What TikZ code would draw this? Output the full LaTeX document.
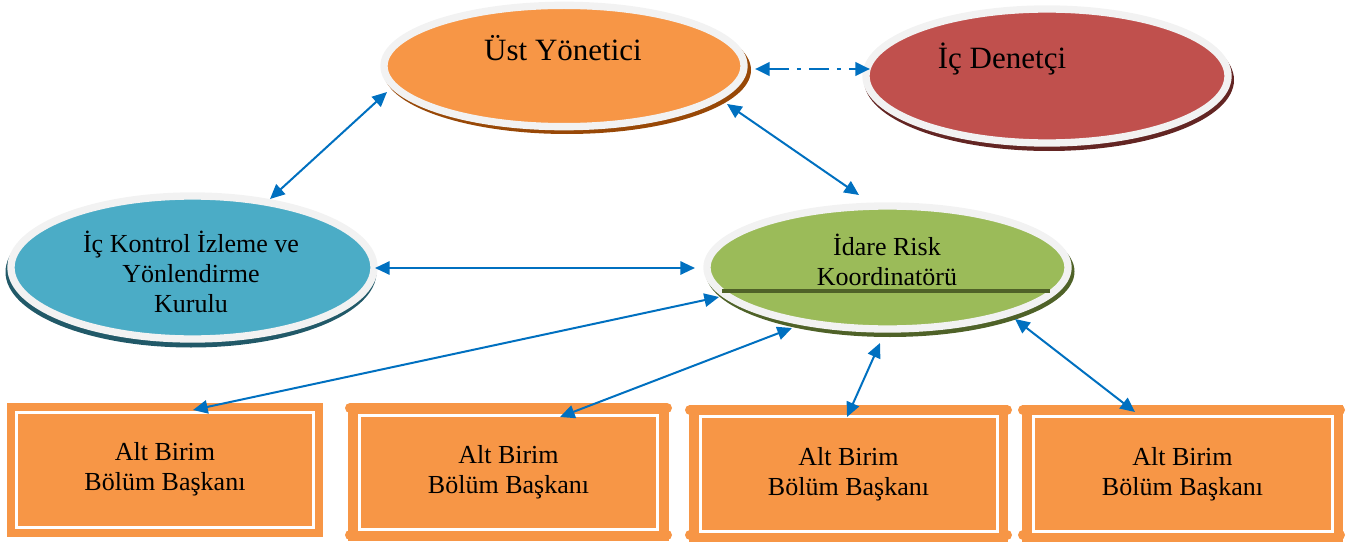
\documentclass[tikz,border=0pt]{standalone}
\usepackage{fontspec}
\setmainfont{Liberation Serif}
\usetikzlibrary{arrows.meta,shapes.geometric}
\definecolor{cOr}{HTML}{F79646}
\definecolor{cOrD}{HTML}{984807}
\definecolor{cRed}{HTML}{C0504D}
\definecolor{cRedD}{HTML}{632523}
\definecolor{cBlu}{HTML}{4BACC6}
\definecolor{cBluD}{HTML}{215968}
\definecolor{cGrn}{HTML}{9BBB59}
\definecolor{cGrnD}{HTML}{4F6228}
\definecolor{cRim}{HTML}{F2F2F2}
\definecolor{cArr}{HTML}{0070C0}
\begin{document}
\begin{tikzpicture}[x=0.75pt,y=-0.75pt,
  ell/.style={ellipse, draw=cRim, line width=5.5pt, inner sep=0pt, outer sep=0pt},
  bigtxt/.style={font=\fontsize{23.25pt}{27pt}\selectfont, inner sep=0pt},
  smalltxt/.style={font=\fontsize{19.5pt}{22.5pt}\selectfont, align=center, inner sep=0pt},
  link/.style={cArr, line width=1.5pt, {Triangle[length=11pt,width=10pt]}-{Triangle[length=11pt,width=10pt]}},
  dlink/.style={link, line width=2.2pt, dash pattern=on 15pt off 6pt on 3pt off 6pt},
  boxA/.style={rectangle, fill=cOr, draw=cOr, double=white, double distance=2.25pt,
    inner sep=0pt, outer sep=0pt, align=center, font=\fontsize{19.5pt}{22.5pt}\selectfont},
  bar/.style={cOr, line width=7.5pt, line cap=round},
]
\useasboundingbox (0,0) rectangle (1349,542);

% shadows
\fill[cOrD]  (567,70)    ellipse [x radius=184, y radius=64];
\fill[cRedD] (1049,80)   ellipse [x radius=185, y radius=71];
\fill[cBluD] (191,272)   ellipse [x radius=185.5, y radius=75.5];
\fill[cGrnD] (890,271.5) ellipse [x radius=184.5, y radius=65.5];

% ellipses
\node[ell, fill=cOr,  minimum width=270pt,    minimum height=91pt]     (ust) at (564,66) {};
\node[ell, fill=cRed, minimum width=271.5pt,  minimum height=100.5pt]  (den) at (1047,76) {};
\node[ell, fill=cBlu, minimum width=272.25pt, minimum height=107.25pt] (ick) at (192.5,267.5) {};
\node[ell, fill=cGrn, minimum width=270.75pt, minimum height=92.25pt]  (ida) at (887.5,267.5) {};
\draw[cGrnD, line width=2.5pt] (722,291) -- (1050,291);

% ellipse texts
\node[bigtxt, anchor=base] (ustT) at (563,61) {Üst Yönetici};
\node[bigtxt, anchor=base] (denT) at (1002,69) {İç Denetçi};
\node[smalltxt] (ickT) at (191,272) {İç Kontrol İzleme ve\\Yönlendirme\\Kurulu};
\node[smalltxt] (idaT) at (887,260) {İdare Risk\\Koordinatörü};

% boxes
\draw[bar] (350,408) -- (667,408);
\draw[bar] (350,535) -- (667,535);
\draw[bar] (690,410) -- (1007,410);
\draw[bar] (690,535) -- (1007,535);
\draw[bar] (1023,410) -- (1340,410);
\draw[bar] (1023,535) -- (1340,535);
\node[boxA, line width=6pt,   minimum width=222.75pt, minimum height=86.25pt]  (b1) at (165,469.5) {Alt Birim\\Bölüm Başkanı};
\node[boxA, line width=7.2pt, minimum width=223.5pt,  minimum height=85.875pt] (b2) at (508.5,472.25) {Alt Birim\\Bölüm Başkanı};
\node[boxA, line width=7.2pt, minimum width=222.75pt, minimum height=86.625pt] (b3) at (848.5,473.75) {Alt Birim\\Bölüm Başkanı};
\node[boxA, line width=7.2pt, minimum width=224.25pt, minimum height=86.625pt] (b4) at (1182.5,473.75) {Alt Birim\\Bölüm Başkanı};

% connector end points
\coordinate (p1a) at (387,92);   \coordinate (p1b) at (270,199);
\coordinate (p2a) at (727,104);  \coordinate (p2b) at (859,195);
\coordinate (p3a) at (755,69);   \coordinate (p3b) at (870,69);
\coordinate (p4a) at (375,268);  \coordinate (p4b) at (695,268);
\coordinate (p5a) at (719,297);  \coordinate (p5b) at (193,410);
\coordinate (p6a) at (792,328);  \coordinate (p6b) at (560,417);
\coordinate (p7a) at (880,343);  \coordinate (p7b) at (847,417);
\coordinate (p8a) at (1015,319); \coordinate (p8b) at (1135,412);

\draw[link]  (p1a) -- (p1b);
\draw[link]  (p2a) -- (p2b);
\draw[dlink] (p3a) -- (p3b);
\draw[link]  (p4a) -- (p4b);
\draw[link]  (p5a) -- (p5b);
\draw[link]  (p6a) -- (p6b);
\draw[link]  (p7a) -- (p7b);
\draw[link]  (p8a) -- (p8b);
\end{tikzpicture}
\end{document}
